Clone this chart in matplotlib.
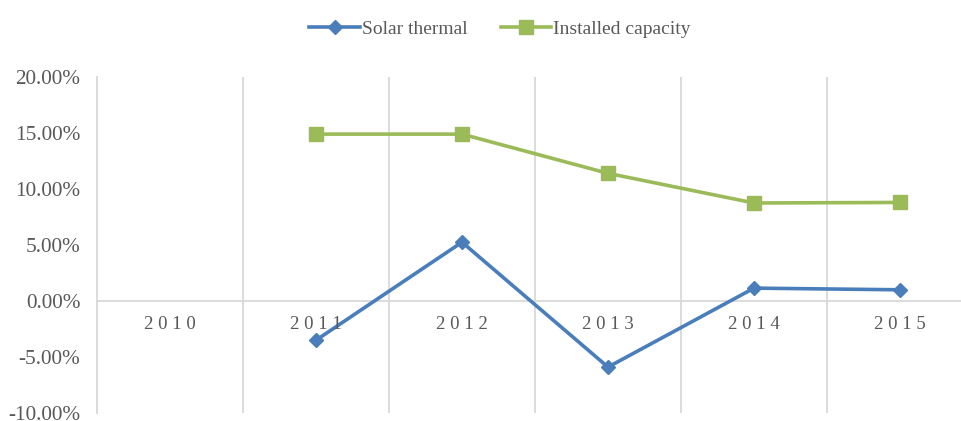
import matplotlib
matplotlib.use("Agg")
import matplotlib.pyplot as plt
from matplotlib.ticker import FuncFormatter, FixedLocator
import matplotlib.transforms as mtransforms
import numpy as np

years = ["2010", "2011", "2012", "2013", "2014", "2015"]
solar_thermal = [None, -3.5, 5.25, -5.9, 1.15, 1.0]
installed_capacity = [None, 14.9, 14.9, 11.4, 8.75, 8.8]
y_ticks = [-10, -5, 0, 5, 10, 15, 20]

W, H = 961, 421
fig = plt.figure(figsize=(W / 100, H / 100), dpi=100)
# axes extends past the right edge (cropped original)
left, right = 97, 973
top, bottom = 77, 413
ax = fig.add_axes([left / W, 1 - bottom / H, (right - left) / W, (bottom - top) / H])

serif = ["Liberation Serif", "DejaVu Serif"]
gray = "#595959"
gridc = "#d9d9d9"

x = np.arange(len(years))
st = np.array([np.nan if v is None else v for v in solar_thermal], dtype=float)
ic = np.array([np.nan if v is None else v for v in installed_capacity], dtype=float)

ax.plot(x, st, color="#4a7ebb", lw=2.6, marker="D", ms=7.5, label="Solar thermal", zorder=3)
ax.plot(x, ic, color="#9bbb59", lw=2.6, marker="s", ms=9.5, label="Installed capacity", zorder=3)

ax.set_xlim(-0.5, len(years) - 0.5)
ax.set_ylim(-10, 20)
ax.set_yticks(y_ticks)
ax.yaxis.set_major_formatter(FuncFormatter(lambda v, p: f"{v:.2f}%"))
ax.tick_params(axis="y", length=0, pad=12, labelsize=15.3, labelcolor=gray)
for lab in ax.get_yticklabels():
    lab.set_family(serif)

# category boundaries as vertical gridlines
ax.xaxis.set_minor_locator(FixedLocator(np.arange(-0.5, len(years), 1.0)))
ax.xaxis.grid(True, which="minor", color=gridc, lw=1.3)
ax.tick_params(axis="x", which="both", length=0)
ax.set_xticks([])
off = mtransforms.ScaledTranslation(0, -15 / 100, fig.dpi_scale_trans)
for i, yv in enumerate(years):
    ax.text(i, 0, " ".join(yv), transform=ax.transData + off, ha="center", va="top",
            fontsize=13.5, color=gray, family=serif)

ax.axhline(0, color=gridc, lw=1.3, zorder=1)
for s in ["top", "right", "bottom"]:
    ax.spines[s].set_visible(False)
ax.spines["left"].set_color(gridc)
ax.spines["left"].set_linewidth(1.3)

leg = fig.legend(loc="center", bbox_to_anchor=(500 / W, 1 - 29 / H), ncol=2, frameon=False,
                 prop={"family": serif, "size": 14}, labelcolor=gray,
                 handlelength=2.6, handletextpad=0.1, columnspacing=1.7)

fig.savefig("out.png", dpi=100)
